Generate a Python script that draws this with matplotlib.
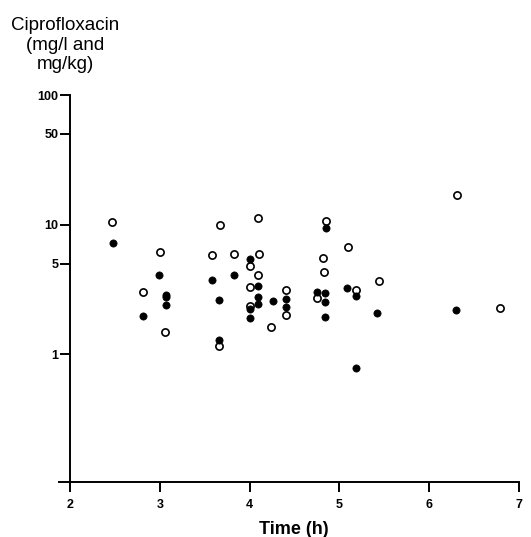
import matplotlib
matplotlib.use("Agg")
import matplotlib.pyplot as plt

plt.rcParams['font.family'] = ['Liberation Sans', 'DejaVu Sans']

# open circles (mg/l)
open_x = [2.47, 3.00, 2.81, 3.06, 3.67, 4.09, 4.85, 3.58, 3.83, 4.00, 4.10, 4.82,
          4.09, 4.83, 4.00, 4.41, 4.41, 4.00, 4.24, 3.66, 4.75, 6.31, 5.10, 5.44,
          5.18, 6.79]
open_y = [10.5, 6.15, 3.02, 1.47, 10.0, 11.3, 10.6, 5.77, 5.9, 4.8, 5.9, 5.5,
          4.09, 4.34, 3.28, 3.13, 1.99, 2.34, 1.61, 1.15, 2.69, 16.9, 6.68, 3.67,
          3.11, 2.28]
# filled circles (mg/kg)
filled_x = [2.48, 2.99, 3.07, 3.07, 3.07, 2.81, 4.85, 4.00, 3.58, 3.83, 4.09,
            4.09, 4.09, 3.66, 4.41, 4.41, 4.26, 4.00, 4.00, 3.66, 4.75, 4.84,
            4.84, 4.84, 5.09, 5.18, 5.42, 6.30, 5.18]
filled_y = [7.2, 4.09, 2.88, 2.75, 2.4, 1.97, 9.4, 5.4, 3.7, 4.09, 3.34,
            2.77, 2.44, 2.61, 2.65, 2.33, 2.55, 2.21, 1.9, 1.29, 3.04, 2.94,
            2.52, 1.95, 3.23, 2.82, 2.08, 2.2, 0.78]

x_ticks = [2, 3, 4, 5, 6, 7]
y_ticks = [1, 5, 10, 50, 100]
y_tick_labels = ['1', '5', '10', '50', '100']

fig = plt.figure(figsize=(5.31, 5.37), dpi=100)
ax = fig.add_axes([59/531, 55/537, 460/531, 387/537])

ax.plot(open_x, open_y, 'o', mfc='white', mec='black', mew=1.2, ms=5.2, ls='none')
ax.plot(filled_x, filled_y, 'o', mfc='black', mec='black', mew=0.5, ms=5.2, ls='none')

ax.set_yscale('log')
ax.set_ylim(0.103, 100)
ax.set_xlim(2 - 11/90, 7)

ax.spines['top'].set_visible(False)
ax.spines['right'].set_visible(False)
ax.spines['left'].set_position(('data', 2))
ax.spines['left'].set_linewidth(1.4)
ax.spines['bottom'].set_linewidth(1.4)

ax.set_xticks(x_ticks)
ax.set_xticklabels([str(t) for t in x_ticks])
ax.set_yticks(y_ticks)
ax.set_yticklabels(y_tick_labels)
ax.yaxis.set_minor_locator(matplotlib.ticker.NullLocator())
ax.tick_params(axis='both', direction='out', length=7, width=1.4, labelsize=9)
ax.tick_params(axis='x', pad=5)
ax.tick_params(axis='y', pad=1.5)
for lab in ax.get_xticklabels() + ax.get_yticklabels():
    lab.set_fontweight('bold')

fig.text(65/531, 1 - 45/537, 'Ciprofloxacin\n(mg/l and\nmg/kg)', ha='center', va='center',
         fontsize=13.5, linespacing=1.2)
fig.text(294/531, 1 - 529/537, 'Time (h)', ha='center', va='center', fontsize=13, fontweight='bold')

fig.savefig('out.png', dpi=100)
